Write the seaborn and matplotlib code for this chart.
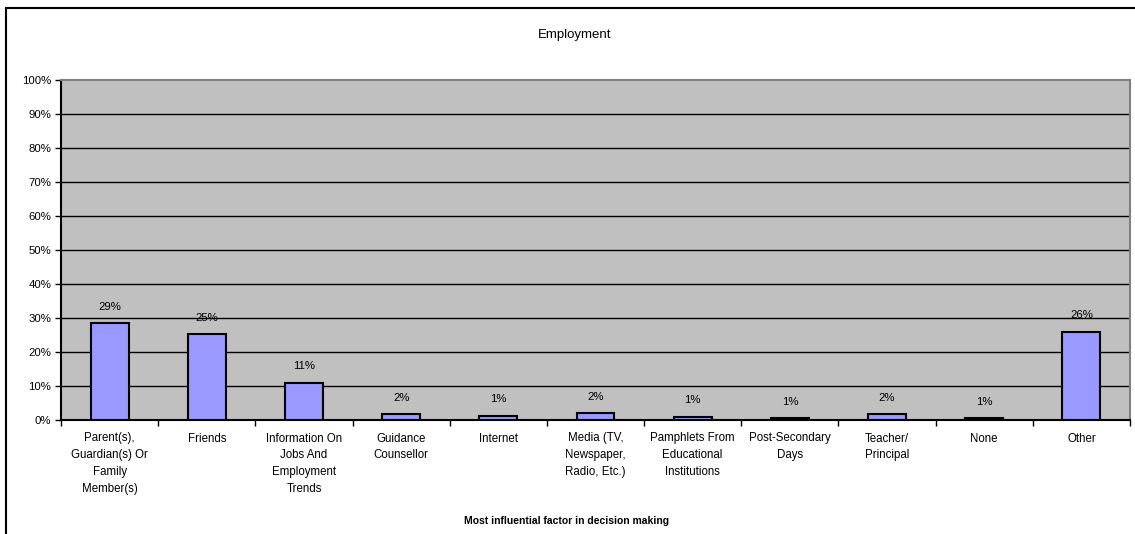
import matplotlib
matplotlib.use("Agg")
import matplotlib.pyplot as plt
from matplotlib.lines import Line2D
from matplotlib.ticker import FixedLocator, PercentFormatter
import seaborn as sns
import pandas as pd

categories = [
    "Parent(s),\nGuardian(s) Or\nFamily\nMember(s)",
    "Friends",
    "Information On\nJobs And\nEmployment\nTrends",
    "Guidance\nCounsellor",
    "Internet",
    "Media (TV,\nNewspaper,\nRadio, Etc.)",
    "Pamphlets From\nEducational\nInstitutions",
    "Post-Secondary\nDays",
    "Teacher/\nPrincipal",
    "None",
    "Other",
]
shares = [0.286, 0.252, 0.110, 0.017, 0.013, 0.020, 0.010, 0.006, 0.017, 0.006, 0.260]
y_ticks = [0.0, 0.1, 0.2, 0.3, 0.4, 0.5, 0.6, 0.7, 0.8, 0.9, 1.0]

sns.set_style("white")
plt.rcParams["font.family"] = ["Liberation Sans", "DejaVu Sans"]
plt.rcParams["text.color"] = "black"
plt.rcParams["xtick.color"] = "black"
plt.rcParams["ytick.color"] = "black"
plt.rcParams["axes.labelcolor"] = "black"

df = pd.DataFrame({"factor": categories, "share": shares})

fig = plt.figure(figsize=(11.35, 5.34), dpi=100)
ax = fig.add_axes([61 / 1135, 114 / 534, (1130 - 61) / 1135, 340 / 534])
ax.set_facecolor("#C0C0C0")

sns.barplot(data=df, x="factor", y="share", color="#9999FF", saturation=1,
            edgecolor="black", linewidth=1.5, width=0.39, ax=ax, zorder=3)

ax.set_ylim(0, 1.0)
ax.set_xlim(-0.5, len(categories) - 0.5)

# horizontal gridlines
for v in y_ticks[1:-1]:
    ax.axhline(v, color="black", linewidth=1.0, zorder=1)

ax.yaxis.set_major_locator(FixedLocator(y_ticks))
ax.yaxis.set_major_formatter(PercentFormatter(1.0, decimals=0))
ax.tick_params(axis="y", which="major", direction="out", length=4, width=1,
               color="black", labelcolor="black", labelsize=8.2, pad=3, left=True)

# category labels centred, tick marks between categories
ax.set_xticks(range(len(categories)))
ax.set_xticklabels(categories, fontsize=8.3, linespacing=1.55, va="top")
ax.set_xticks([i - 0.5 for i in range(len(categories) + 1)], minor=True)
ax.tick_params(axis="x", which="major", length=0, pad=9, labelcolor="black")
ax.tick_params(axis="x", which="minor", direction="out", length=4, width=1,
               color="black", bottom=True)

for side in ("left", "bottom"):
    ax.spines[side].set_color("black")
    ax.spines[side].set_linewidth(1.5)
for side in ("top", "right"):
    ax.spines[side].set_color("#808080")
    ax.spines[side].set_linewidth(1.5)
    ax.spines[side].set_visible(True)

labels = [f"{v:.0%}" for v in shares]
ax.bar_label(ax.containers[0], labels=labels, padding=8, fontsize=8.2,
             color="black")

ax.set_ylabel("")
ax.set_xlabel("Most influential factor in decision making", fontsize=7.5,
              fontweight="bold", labelpad=0, color="black")
ax.xaxis.set_label_coords((567 - 61) / (1130 - 61), -(516 - 420) / 340)

fig.text(575 / 1135, 1 - 35 / 534, "Employment", ha="center", va="center",
         fontsize=9.5, color="black")

# chart frame
fig.add_artist(Line2D([6 / 1135, 6 / 1135], [0, 1 - 8 / 534], color="black",
                      linewidth=1.5, transform=fig.transFigure))
fig.add_artist(Line2D([6 / 1135, 1], [1 - 8 / 534, 1 - 8 / 534], color="black",
                      linewidth=1.5, transform=fig.transFigure))

fig.savefig("out.png", dpi=100, facecolor="white")
